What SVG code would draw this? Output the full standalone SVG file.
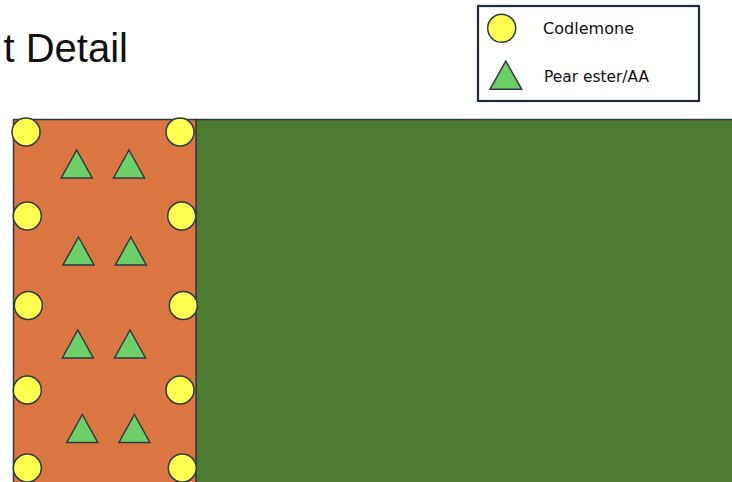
<svg xmlns="http://www.w3.org/2000/svg" width="732" height="482" viewBox="0 0 732 482">
<defs>
<style>
.c{fill:#FFFF4F;stroke:#2F3B42;stroke-width:1.5}
.t{fill:#6CCF68;stroke:#2F3B42;stroke-width:1.5;stroke-linejoin:miter}
.lbl{font-family:"DejaVu Sans","Liberation Sans",sans-serif;font-size:15px;fill:#111}
</style>
<circle id="cod" r="14" class="c"/>
<polygon id="tri" class="t" points="0,0 15.5,28 -15.5,28"/>
</defs>
<rect width="732" height="482" fill="#fff"/>
<text id="title" x="128" y="62" text-anchor="end" font-family="Liberation Sans, Arial, sans-serif" font-size="40" fill="#111">t Detail</text>
<g id="legend">
<rect x="478" y="6" width="221" height="95" fill="#fff" stroke="#1E2B38" stroke-width="2.2"/>
<use href="#cod" x="501.7" y="28.3"/>
<polygon class="t" points="505.8,61 521.7,89.3 490,89.3"/>
<text class="lbl" x="543" y="34" textLength="91" lengthAdjust="spacingAndGlyphs">Codlemone</text>
<text class="lbl" x="544" y="82" textLength="105" lengthAdjust="spacingAndGlyphs">Pear ester/AA</text>
</g>
<g id="green-field"><rect x="196" y="119.5" width="540" height="370" fill="#4D7B31" stroke="#2F3B42" stroke-width="1.5"/></g>
<g id="orange-border"><rect x="13.5" y="119.5" width="182.5" height="370" fill="#DB7642" stroke="#2F3B42" stroke-width="1.5"/></g>
<g id="codlemone">
<use href="#cod" x="26" y="132"/><use href="#cod" x="180" y="132"/>
<use href="#cod" x="27.3" y="216"/><use href="#cod" x="181.7" y="216"/>
<use href="#cod" x="28.3" y="305.5"/><use href="#cod" x="183.3" y="305.5"/>
<use href="#cod" x="27.3" y="390"/><use href="#cod" x="180" y="390"/>
<use href="#cod" x="27.3" y="468"/><use href="#cod" x="182.3" y="468"/>
</g>
<g id="pear-ester">
<use href="#tri" x="76.7" y="150"/><use href="#tri" x="129" y="150"/>
<use href="#tri" x="78.5" y="237"/><use href="#tri" x="130.8" y="237"/>
<use href="#tri" x="77.8" y="330"/><use href="#tri" x="130" y="330"/>
<use href="#tri" x="82.3" y="414.5"/><use href="#tri" x="134.4" y="414.5"/>
</g>
</svg>
